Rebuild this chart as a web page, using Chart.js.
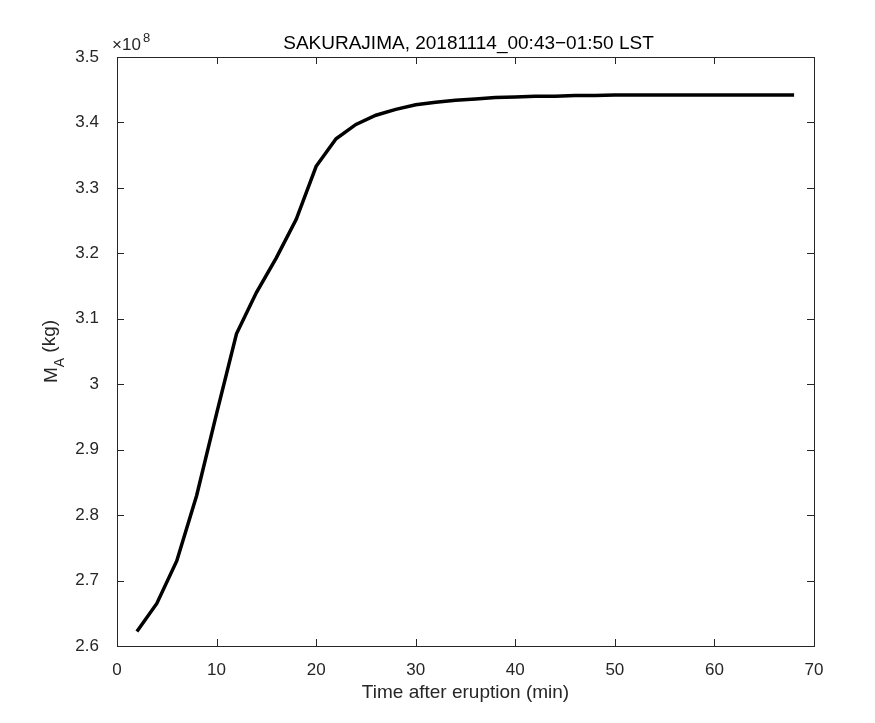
<!DOCTYPE html>
<html><head><meta charset="utf-8">
<script src="https://cdn.jsdelivr.net/npm/chart.js@4"></script>
<style>body{margin:0;background:#fff}#wrap{width:875px;height:723px}</style>
</head><body><div id="wrap"><canvas id="c"></canvas></div>
<script>
// time after eruption (min) and mass in units of 1e8 kg
const times = [2,4,6,8,10,12,14,16,18,20,22,24,26,28,30,32,34,36,38,40,42,44,46,48,50,52,54,56,58,60,62,64,66,68];
const massE8 = [2.622,2.665,2.73,2.83,2.955,3.077,3.14,3.193,3.252,3.333,3.375,3.397,3.411,3.420,3.427,3.431,3.434,3.436,3.438,3.439,3.440,3.440,3.441,3.441,3.442,3.442,3.442,3.442,3.442,3.442,3.442,3.442,3.442,3.442];
const xTicks = [0,10,20,30,40,50,60,70];
const yTicks = [2.6,2.7,2.8,2.9,3.0,3.1,3.2,3.3,3.4,3.5];

const FONT = 'Liberation Sans, Arial, sans-serif';
const INK = '#262626';

const decor = {
    id: 'decor',
    afterDraw(chart) {
        const { ctx, chartArea: a, scales } = chart;
        ctx.save();
        ctx.strokeStyle = INK;
        ctx.lineWidth = 1;
        ctx.strokeRect(a.left + 0.5, a.top + 0.5, a.right - a.left, a.bottom - a.top);
        // inward ticks
        ctx.beginPath();
        xTicks.forEach(t => {
            const x = Math.round(scales.x.getPixelForValue(t)) + 0.5;
            ctx.moveTo(x, a.bottom); ctx.lineTo(x, a.bottom - 7);
            ctx.moveTo(x, a.top); ctx.lineTo(x, a.top + 7);
        });
        yTicks.forEach(t => {
            const y = Math.round(scales.y.getPixelForValue(t)) + 0.5;
            ctx.moveTo(a.left, y); ctx.lineTo(a.left + 7, y);
            ctx.moveTo(a.right, y); ctx.lineTo(a.right - 7, y);
        });
        ctx.stroke();
        ctx.fillStyle = '#000';
        ctx.textAlign = 'center';
        ctx.textBaseline = 'bottom';
        ctx.font = '19px ' + FONT;
        ctx.fillText('SAKURAJIMA, 20181114_00:43\u221201:50 LST', (a.left + a.right) / 2 + 3, a.top - 4);
        ctx.fillStyle = INK;
        ctx.fillText('Time after eruption (min)', (a.left + a.right) / 2, 702);
        // exponent
        ctx.textAlign = 'left';
        ctx.font = '17px ' + FONT;
        ctx.fillText('\u00d710', 112, a.top - 3);
        ctx.font = '13px ' + FONT;
        ctx.fillText('8', 143, a.top - 12);
        // y title with subscript
        ctx.translate(52, (a.top + a.bottom) / 2);
        ctx.rotate(-Math.PI / 2);
        ctx.textAlign = 'left';
        ctx.textBaseline = 'middle';
        ctx.font = '19px ' + FONT;
        const w1 = ctx.measureText('M').width;
        ctx.font = '14px ' + FONT;
        const w2 = ctx.measureText('A').width;
        ctx.font = '19px ' + FONT;
        const w3 = ctx.measureText(' (kg)').width;
        let x0 = -(w1 + w2 + w3) / 2;
        ctx.fillText('M', x0, 0);
        ctx.font = '14px ' + FONT;
        ctx.fillText('A', x0 + w1, 8);
        ctx.font = '19px ' + FONT;
        ctx.fillText(' (kg)', x0 + w1 + w2, -2);
        ctx.restore();
    }
};

new Chart(document.getElementById('c'), {
    type: 'line',
    data: {
        datasets: [{
            data: times.map((t, i) => ({ x: t, y: massE8[i] })),
            borderColor: '#000',
            borderWidth: 3.5,
            pointRadius: 0,
            tension: 0,
            fill: false
        }]
    },
    options: {
        responsive: true,
        maintainAspectRatio: false,
        animation: false,
        layout: { padding: { left: 0, top: 57, right: 61, bottom: 0 } },
        plugins: { legend: { display: false }, tooltip: { enabled: false } },
        scales: {
            x: {
                type: 'linear', min: 0, max: 70,
                afterBuildTicks: s => { s.ticks = xTicks.map(v => ({ value: v })); },
                afterFit: s => { s.height = 77; },
                grid: { display: false }, border: { display: false },
                ticks: { color: INK, font: { family: FONT, size: 17 }, padding: 6, maxRotation: 0 }
            },
            y: {
                min: 2.6, max: 3.5,
                afterBuildTicks: s => { s.ticks = yTicks.map(v => ({ value: v })); },
                afterFit: s => { s.width = 117; },
                grid: { display: false }, border: { display: false },
                ticks: { color: INK, font: { family: FONT, size: 17 }, padding: 10,
                    callback: v => String(+v.toFixed(1)) }
            }
        }
    },
    plugins: [decor]
});
</script></body></html>
